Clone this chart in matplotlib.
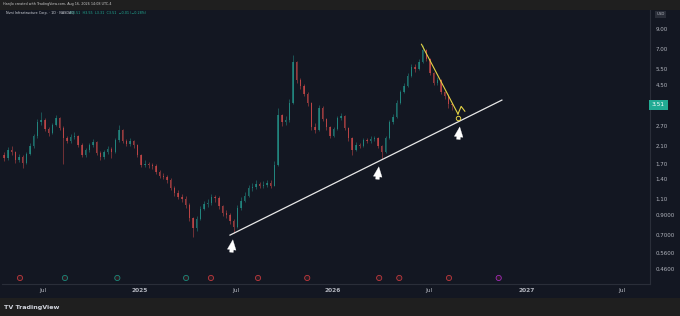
import numpy as np
import pandas as pd
import matplotlib
matplotlib.use('Agg')
import matplotlib.pyplot as plt
import matplotlib.dates as mdates
from matplotlib.patches import Rectangle
from matplotlib.transforms import blended_transform_factory

# Weekly candles (log price scale)
dates = pd.date_range('2024-04-19', periods=122, freq='W-FRI')
first_open = 1.88
closes = [1.82, 2.01, 1.96, 1.78, 1.84, 1.71, 1.91, 2.11, 2.39, 2.84,
          2.91, 2.61, 2.48, 2.74, 2.99, 2.64, 2.33, 2.25, 2.36, 2.38,
          2.14, 1.89, 2.01, 2.14, 2.22, 1.94, 1.84, 1.96, 2.03, 1.97,
          2.27, 2.57, 2.25, 2.16, 2.24, 2.14, 1.89, 1.67, 1.69, 1.66,
          1.65, 1.53, 1.46, 1.44, 1.39, 1.25, 1.18, 1.12, 1.10, 1.02,
          0.865, 0.765, 0.855, 0.97, 1.03, 1.04, 1.12, 1.11, 1.00, 0.92,
          0.90, 0.83, 0.77, 0.98, 1.07, 1.14, 1.25, 1.27, 1.32, 1.29,
          1.30, 1.33, 1.29, 1.67, 3.10, 2.84, 2.90, 3.60, 5.98, 4.78,
          4.44, 4.02, 3.60, 2.67, 2.57, 3.38, 2.95, 2.67, 2.39, 2.61,
          2.99, 3.06, 2.64, 2.33, 2.01, 2.14, 2.11, 2.27, 2.25, 2.30,
          2.33, 2.11, 1.96, 2.33, 2.84, 3.02, 3.60, 4.12, 4.44, 5.03,
          5.62, 5.48, 5.98, 6.94, 6.21, 5.22, 4.61, 4.78, 4.12, 3.92,
          3.55, 3.51]
highs = [1.95, 2.08, 2.10, 1.99, 1.92, 1.88, 1.96, 2.18, 2.46, 2.95,
         3.22, 2.98, 2.66, 2.80, 3.12, 3.02, 2.70, 2.40, 2.45, 2.50,
         2.42, 2.18, 2.06, 2.20, 2.30, 2.25, 1.99, 2.02, 2.10, 2.08,
         2.34, 2.74, 2.60, 2.30, 2.32, 2.28, 2.16, 1.92, 1.78, 1.74,
         1.72, 1.68, 1.57, 1.52, 1.48, 1.42, 1.28, 1.22, 1.16, 1.13,
         1.04, 0.88, 0.89, 1.00, 1.07, 1.09, 1.16, 1.15, 1.13, 1.02,
         0.95, 0.92, 0.85, 1.02, 1.12, 1.19, 1.30, 1.34, 1.38, 1.36,
         1.37, 1.39, 1.38, 1.75, 3.40, 3.15, 3.05, 3.80, 6.50, 6.05,
         4.90, 4.55, 4.10, 3.65, 2.80, 3.50, 3.45, 3.00, 2.72, 2.68,
         3.08, 3.18, 3.10, 2.68, 2.36, 2.22, 2.20, 2.34, 2.33, 2.38,
         2.40, 2.36, 2.14, 2.40, 2.92, 3.15, 3.72, 4.25, 4.60, 5.20,
         5.85, 5.80, 6.20, 7.40, 7.05, 6.30, 5.30, 4.95, 4.85, 4.20,
         4.00, 3.62]
lows = [1.76, 1.78, 1.90, 1.72, 1.74, 1.60, 1.68, 1.88, 2.05, 2.33,
        2.75, 2.55, 2.40, 2.44, 2.70, 2.58, 1.68, 2.18, 2.20, 2.30,
        2.08, 1.84, 1.85, 1.97, 2.08, 1.88, 1.78, 1.80, 1.92, 1.82,
        1.94, 2.22, 2.20, 2.10, 2.12, 2.06, 1.84, 1.62, 1.63, 1.60,
        1.58, 1.49, 1.42, 1.40, 1.34, 1.22, 1.14, 1.09, 1.06, 0.98,
        0.83, 0.68, 0.74, 0.84, 0.95, 0.99, 1.02, 1.06, 0.97, 0.89,
        0.87, 0.80, 0.72, 0.76, 0.96, 1.05, 1.12, 1.21, 1.24, 1.25,
        1.25, 1.27, 1.25, 1.28, 1.65, 2.70, 2.75, 2.85, 3.55, 4.60,
        4.30, 3.90, 3.48, 2.58, 2.48, 2.55, 2.88, 2.58, 2.32, 2.35,
        2.58, 2.92, 2.58, 2.26, 1.90, 1.98, 2.05, 2.08, 2.18, 2.20,
        2.24, 2.05, 1.80, 1.93, 2.30, 2.78, 2.98, 3.55, 4.05, 4.38,
        4.95, 5.30, 5.40, 5.90, 6.05, 5.10, 4.50, 4.52, 4.02, 3.80,
        3.40, 3.31]
last_price = 3.51

price_ticks = [0.46, 0.56, 0.70, 0.90, 1.10, 1.40, 1.70, 2.10, 2.70, 4.50, 5.50, 7.00, 9.00]
price_labels = ['0.4600', '0.5600', '0.7000', '0.9000', '1.10', '1.40', '1.70',
                '2.10', '2.70', '4.50', '5.50', '7.00', '9.00']
time_ticks = ['2024-07-01', '2025-01-01', '2025-07-01', '2026-01-01',
              '2026-07-01', '2027-01-01', '2027-07-01']
time_labels = ['Jul', '2025', 'Jul', '2026', 'Jul', '2027', 'Jul']

# drawings on the chart
support_dates = ['2025-06-20', '2026-11-16']
support_prices = [0.70, 3.73]
fall_dates = ['2026-06-17', '2026-08-25']
fall_prices = [7.45, 3.14]
hook_dates = ['2026-08-25', '2026-08-31', '2026-09-07']
hook_prices = [3.14, 3.45, 3.25]
touch_date, touch_price = '2026-08-25', 2.99
arrow_dates = ['2025-06-26', '2026-03-29', '2026-08-29']
arrow_prices = [0.684, 1.69, 2.77]

# earnings / dividend flags along the bottom
event_dates = ['2024-05-19', '2024-08-12', '2024-11-19', '2025-03-29', '2025-05-15',
               '2025-08-12', '2025-11-13', '2026-03-29', '2026-05-06', '2026-08-08',
               '2026-11-10']
event_colors = ['#c0393e', '#1b8a7c', '#1b8a7c', '#1b8a7c', '#c0393e',
                '#c0393e', '#c0393e', '#c0393e', '#c0393e', '#c0393e', '#a02ab8']

bg = '#131722'
grid_c = '#2a2e39'
text_c = '#b2b5be'
up_c = '#26a69a'
down_c = '#ef5350'

fig = plt.figure(figsize=(6.8, 3.16), dpi=100, facecolor='#1f1f1f')
fig.patches.append(Rectangle((0, 18 / 316), 1, 288 / 316, transform=fig.transFigure,
                             facecolor=bg, edgecolor='none', zorder=-5))

ax = fig.add_axes([2 / 680, 32 / 316, 648 / 680, 274 / 316])
ax.set_facecolor(bg)
ax.set_zorder(2)

x = mdates.date2num(dates)
opens = np.array([first_open] + closes[:-1])
closes_a = np.array(closes)
up = closes_a >= opens
colors = np.where(up, up_c, down_c)

ax.vlines(x, lows, highs, colors=colors, linewidth=0.5, alpha=0.6, zorder=2)
body_lo = np.minimum(opens, closes_a)
body_hi = np.maximum(opens, closes_a)
ax.bar(x, body_hi - body_lo, bottom=body_lo, width=2.6, color=colors,
       alpha=0.6, linewidth=0, zorder=3)

ax.set_yscale('log')
ax.set_ylim(0.382, 11.39)
ax.set_xlim(mdates.datestr2num('2024-04-15'), mdates.datestr2num('2027-08-23'))

ax.yaxis.tick_right()
ax.set_yticks(price_ticks)
ax.set_yticklabels(price_labels)
ax.yaxis.set_minor_locator(matplotlib.ticker.NullLocator())
ax.tick_params(axis='y', length=0, pad=4, labelsize=4, labelcolor=text_c)

ax.set_xticks(mdates.datestr2num(time_ticks))
ax.set_xticklabels(time_labels)
ax.tick_params(axis='x', length=0, pad=3, labelsize=4.2, labelcolor=text_c)
for lbl in ax.get_xticklabels():
    if lbl.get_text().isdigit():
        lbl.set_fontweight('bold')

for side in ['top', 'left']:
    ax.spines[side].set_visible(False)
for side in ['right', 'bottom']:
    ax.spines[side].set_color(grid_c)
    ax.spines[side].set_linewidth(0.8)

# support trendline
ax.plot(mdates.datestr2num(support_dates), support_prices, color='#e8e8e8', lw=0.9, zorder=4)

# yellow down-sloping line with little hook and circle
ax.plot(mdates.datestr2num(fall_dates), fall_prices, color='#e5d345', lw=0.8, zorder=5)
ax.plot(mdates.datestr2num(hook_dates), hook_prices, color='#e5d345', lw=0.8, zorder=5)
ax.plot(mdates.datestr2num(touch_date), touch_price, 'o', ms=3.2, mfc='none',
        mec='#e5d345', mew=0.7, zorder=5)

# white arrows under the touches
for d, p in zip(arrow_dates, arrow_prices):
    ax.annotate('', xy=(mdates.datestr2num(d), p), xytext=(-1.5, -13),
                textcoords='offset points',
                arrowprops=dict(arrowstyle='simple,head_width=0.7,head_length=0.8,tail_width=0.3',
                                fc='white', ec='white', lw=0.2, mutation_scale=9),
                zorder=6)

# event flags
trans = blended_transform_factory(ax.transData, ax.transAxes)
ax.scatter(mdates.datestr2num(event_dates), [0.022] * len(event_dates), s=14,
           marker='o', facecolors='#2a1c24', edgecolors=event_colors, linewidths=0.6,
           transform=trans, zorder=6, clip_on=False)

# last price label on the axis
ax.text(1.003, last_price, f'{last_price:.2f}', transform=blended_transform_factory(ax.transAxes, ax.transData),
        ha='left', va='center', fontsize=4.2, color='white',
        bbox=dict(boxstyle='square,pad=0.45', facecolor='#22ab94', edgecolor='none'))

ax.text(1.01, 0.985, 'USD', transform=ax.transAxes, ha='left', va='center', fontsize=2.8,
        color=text_c, bbox=dict(boxstyle='square,pad=0.4', facecolor='#2a2e39', edgecolor='none'))

# header and legend
fig.text(3 / 680, 1 - 4 / 316, 'Hanjlo created with TradingView.com, Aug 16, 2026 14:08 UTC-4',
         fontsize=2.4, color='#c8c8c8', va='center', ha='left')
fig.text(6 / 680, 1 - 13 / 316, 'Nvni Infrastructure Corp. · 1D · NASDAQ',
         fontsize=2.4, color='#d1d4dc', va='center', ha='left', zorder=5)
fig.text(70 / 680, 1 - 13 / 316, 'O3.51  H3.55  L3.31  C3.51  −0.01 (−0.28%)',
         fontsize=2.4, color='#22ab94', va='center', ha='left', zorder=5)

fig.text(4 / 680, 9 / 316, 'TV TradingView', fontsize=4.6, color='#d1d4dc',
         va='center', ha='left', fontweight='bold')

fig.savefig('out.png', dpi=100, facecolor=fig.get_facecolor())
